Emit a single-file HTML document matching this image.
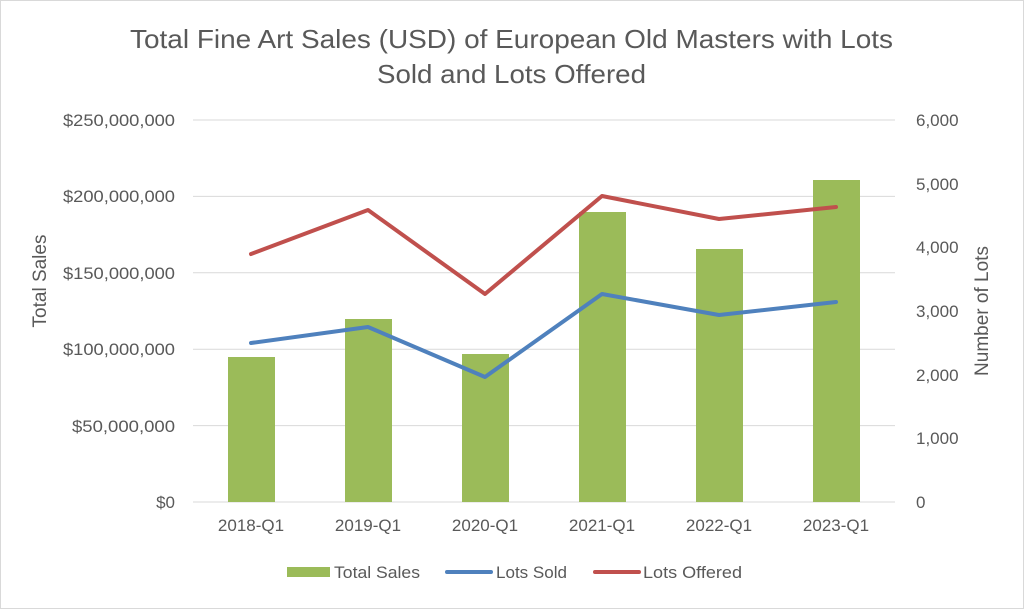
<!DOCTYPE html>
<html><head><meta charset="utf-8"><style>
html,body{margin:0;padding:0;background:#fff;}
svg{display:block;font-family:"Liberation Sans",sans-serif;}
</style></head><body>
<svg width="1024" height="609" viewBox="0 0 1024 609">
<rect x="0.5" y="0.5" width="1023" height="608" fill="#fff" stroke="#d9d9d9"/>
<text x="130" y="48" textLength="763" lengthAdjust="spacingAndGlyphs" font-size="26" fill="#595959">Total Fine Art Sales (USD) of European Old Masters with Lots</text>
<text x="377" y="83" textLength="269" lengthAdjust="spacingAndGlyphs" font-size="26" fill="#595959">Sold and Lots Offered</text>
<g stroke="#d9d9d9" stroke-width="1">
<line x1="193" x2="895" y1="120" y2="120"/><line x1="193" x2="895" y1="196.4" y2="196.4"/>
<line x1="193" x2="895" y1="272.8" y2="272.8"/><line x1="193" x2="895" y1="349.2" y2="349.2"/>
<line x1="193" x2="895" y1="425.6" y2="425.6"/><line x1="193" x2="895" y1="502" y2="502"/>
</g>
<g font-size="17" fill="#595959" text-anchor="end">
<text x="175" y="126" textLength="112" lengthAdjust="spacingAndGlyphs">$250,000,000</text><text x="175" y="202" textLength="112" lengthAdjust="spacingAndGlyphs">$200,000,000</text>
<text x="175" y="279" textLength="112" lengthAdjust="spacingAndGlyphs">$150,000,000</text><text x="175" y="355" textLength="112" lengthAdjust="spacingAndGlyphs">$100,000,000</text>
<text x="175" y="432" textLength="103" lengthAdjust="spacingAndGlyphs">$50,000,000</text><text x="175" y="508">$0</text>
</g>
<g font-size="17" fill="#595959" text-anchor="start">
<text x="916" y="126">6,000</text><text x="916" y="190">5,000</text><text x="916" y="253">4,000</text>
<text x="916" y="317">3,000</text><text x="916" y="381">2,000</text><text x="916" y="444">1,000</text><text x="916" y="508">0</text>
</g>
<g fill="#9bbb59">
<rect x="228" y="357" width="47" height="145"/><rect x="345" y="319" width="47" height="183"/>
<rect x="462" y="354" width="47" height="148"/><rect x="579" y="212" width="47" height="290"/>
<rect x="696" y="249" width="47" height="253"/><rect x="813" y="180" width="47" height="322"/>
</g>
<polyline fill="none" stroke="#4f81bd" stroke-width="4" stroke-linejoin="round" stroke-linecap="round" points="251,343 368,327 485,377 602,294 719,315 836,302"/>
<polyline fill="none" stroke="#c0504d" stroke-width="4" stroke-linejoin="round" stroke-linecap="round" points="251,254 368,210 485,294 602,196 719,219 836,207"/>
<g font-size="17" fill="#595959" text-anchor="middle">
<text x="251" y="531">2018-Q1</text><text x="368" y="531">2019-Q1</text><text x="485" y="531">2020-Q1</text>
<text x="602" y="531">2021-Q1</text><text x="719" y="531">2022-Q1</text><text x="836" y="531">2023-Q1</text>
</g>
<text transform="translate(46,281) rotate(-90)" text-anchor="middle" font-size="19" fill="#595959">Total Sales</text>
<text transform="translate(988,311) rotate(-90)" text-anchor="middle" font-size="19" fill="#595959">Number of Lots</text>
<rect x="287" y="567" width="43" height="10" fill="#9bbb59"/>
<text x="334" y="578" font-size="17" fill="#595959" textLength="86" lengthAdjust="spacingAndGlyphs">Total Sales</text>
<line x1="447" x2="491" y1="572" y2="572" stroke="#4f81bd" stroke-width="4" stroke-linecap="round"/>
<text x="496" y="578" font-size="17" fill="#595959" textLength="71" lengthAdjust="spacingAndGlyphs">Lots Sold</text>
<line x1="595" x2="639" y1="572" y2="572" stroke="#c0504d" stroke-width="4" stroke-linecap="round"/>
<text x="643" y="578" font-size="17" fill="#595959" textLength="99" lengthAdjust="spacingAndGlyphs">Lots Offered</text>
</svg>
</body></html>
